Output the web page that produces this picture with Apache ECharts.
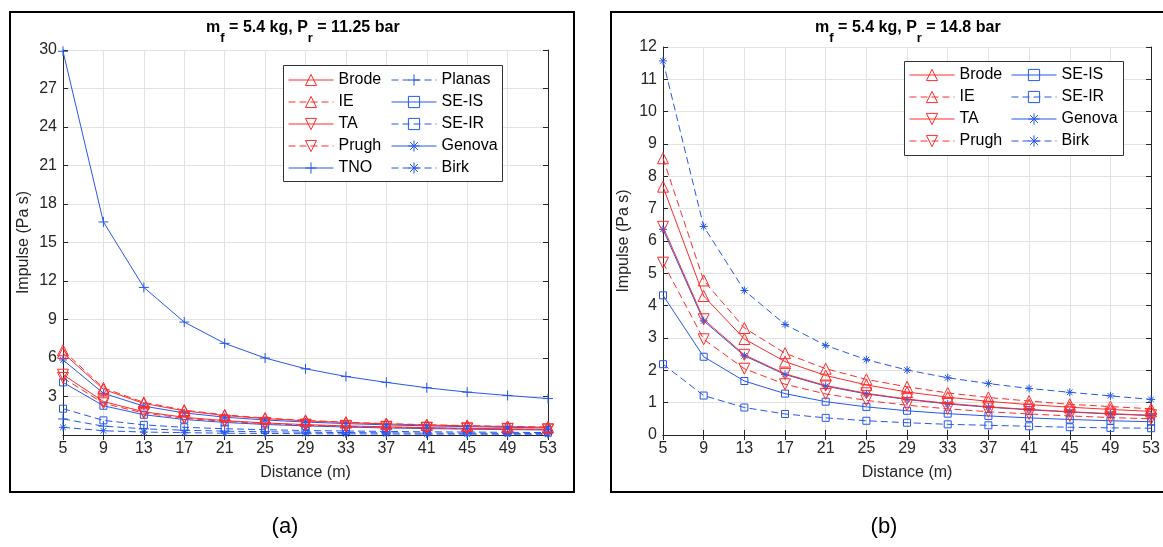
<!DOCTYPE html>
<html><head><meta charset="utf-8">
<script src="https://cdn.jsdelivr.net/npm/echarts@6/dist/echarts.min.js"></script>
<style>html,body{margin:0;padding:0;background:#fff}#c{width:1163px;height:547px}</style>
</head><body><div id="c"></div>
<script>
// ---------- data ----------
const distance = ['5','9','13','17','21','25','29','33','37','41','45','49','53'];

// panel (a): m_f = 5.4 kg, P_r = 11.25 bar
const aBrode  = [6.40,3.56,2.46,1.88,1.52,1.28,1.10,0.97,0.86,0.78,0.71,0.65,0.60];
const aIE     = [6.60,3.67,2.54,1.94,1.57,1.32,1.14,1.00,0.89,0.80,0.73,0.67,0.62];
const aTA     = [4.70,2.61,1.81,1.38,1.12,0.94,0.81,0.71,0.64,0.57,0.52,0.48,0.44];
const aPrugh  = [4.45,2.47,1.71,1.31,1.06,0.89,0.77,0.67,0.60,0.54,0.49,0.45,0.42];
const aTNO    = [29.9,16.6,11.5,8.80,7.14,6.00,5.16,4.56,4.10,3.68,3.34,3.08,2.84];
const aPlanas = [1.25,0.69,0.48,0.37,0.30,0.25,0.22,0.19,0.17,0.15,0.14,0.13,0.12];
const aSEIS   = [4.10,2.28,1.58,1.21,0.98,0.82,0.71,0.62,0.55,0.50,0.46,0.42,0.39];
const aSEIR   = [2.05,1.14,0.79,0.60,0.49,0.41,0.35,0.31,0.28,0.25,0.23,0.21,0.19];
const aGenova = [5.85,3.25,2.25,1.72,1.39,1.17,1.01,0.89,0.79,0.71,0.65,0.60,0.55];
const aBirk   = [0.60,0.33,0.23,0.18,0.14,0.12,0.10,0.09,0.08,0.07,0.07,0.06,0.06];

// panel (b): m_f = 5.4 kg, P_r = 14.8 bar
const bBrode  = [7.68,4.30,2.97,2.27,1.84,1.55,1.33,1.17,1.04,0.94,0.86,0.79,0.73];
const bIE     = [8.56,4.78,3.31,2.53,2.05,1.72,1.49,1.30,1.16,1.05,0.95,0.88,0.81];
const bTA     = [6.44,3.58,2.48,1.89,1.53,1.29,1.11,0.98,0.87,0.79,0.72,0.66,0.61];
const bPrugh  = [5.33,2.96,2.05,1.57,1.27,1.07,0.92,0.81,0.72,0.65,0.59,0.54,0.50];
const bSEIS   = [4.32,2.42,1.67,1.28,1.03,0.87,0.75,0.66,0.59,0.53,0.48,0.44,0.41];
const bSEIR   = [2.19,1.22,0.85,0.65,0.53,0.44,0.38,0.33,0.30,0.27,0.24,0.22,0.21];
const bGenova = [6.36,3.53,2.45,1.87,1.51,1.27,1.10,0.96,0.86,0.78,0.71,0.65,0.60];
const bBirk   = [11.57,6.45,4.47,3.42,2.77,2.33,2.01,1.77,1.59,1.44,1.32,1.21,1.10];

const legendA1 = ['Brode','IE','TA','Prugh','TNO'];
const legendA2 = ['Planas','SE-IS','SE-IR','Genova','Birk'];
const legendB1 = ['Brode','IE','TA','Prugh'];
const legendB2 = ['SE-IS','SE-IR','Genova','Birk'];

// ---------- styles ----------
const RED = '#ff2b2b', BLUE = '#2557ee';
const SYM = {
  up:   'path://M5,0L10,9L0,9Z',
  down: 'path://M0,0L10,0L5,9Z',
  plus: 'path://M5,0L5,10M0,5L10,5',
  sq:   'path://M0,0L10,0L10,10L0,10Z',
  ast:  'path://M5,0L5,10M0,5L10,5M1.5,1.5L8.5,8.5M8.5,1.5L1.5,8.5'
};
const STYLE = {
  'Brode':  {c: RED,  s: SYM.up,   z: 11, dash: false},
  'IE':     {c: RED,  s: SYM.up,   z: 11, dash: true},
  'TA':     {c: RED,  s: SYM.down, z: 11, dash: false},
  'Prugh':  {c: RED,  s: SYM.down, z: 11, dash: true},
  'TNO':    {c: BLUE, s: SYM.plus, z: 10, dash: false},
  'Planas': {c: BLUE, s: SYM.plus, z: 10, dash: true},
  'SE-IS':  {c: BLUE, s: SYM.sq,   z: 7,  dash: false},
  'SE-IR':  {c: BLUE, s: SYM.sq,   z: 7,  dash: true},
  'Genova': {c: BLUE, s: SYM.ast,  z: 8,  dash: false},
  'Birk':   {c: BLUE, s: SYM.ast,  z: 8,  dash: true}
};
function mk(name, data, idx) {
  const st = STYLE[name];
  return {
    name, type: 'line', data, xAxisIndex: idx, yAxisIndex: idx,
    symbol: st.s, symbolSize: st.z, showSymbol: true, animation: false,
    lineStyle: {color: st.c, width: 1, type: st.dash ? [7,4] : 'solid'},
    itemStyle: {color: 'transparent', borderColor: st.c, borderWidth: 1},
    emphasis: {disabled: true}
  };
}

const FONT = "'Liberation Sans', Arial, sans-serif";
const AX = '#262626';
function xAx(gi, show) {
  return {
    type: 'category', data: distance, gridIndex: gi, boundaryGap: false,
    position: show ? 'bottom' : 'top',
    axisLine: {show: true, lineStyle: {color: AX, width: 1}},
    axisTick: {show: true, inside: true, length: 5, lineStyle: {color: AX}},
    axisLabel: {show: show, fontFamily: FONT, fontSize: 16, color: AX, margin: 6},
    splitLine: {show: show, lineStyle: {color: '#e3e3e3'}},
    name: show ? 'Distance (m)' : '', nameLocation: 'middle', nameGap: 30,
    nameTextStyle: {fontFamily: FONT, fontSize: 16, color: AX}
  };
}
function yAx(gi, show, max, interval, hideMin) {
  return {
    type: 'value', gridIndex: gi, min: 0, max, interval,
    position: show ? 'left' : 'right',
    axisLine: {show: true, lineStyle: {color: AX, width: 1}},
    axisTick: {show: true, inside: true, length: 5, lineStyle: {color: AX}},
    axisLabel: {show: show, fontFamily: FONT, fontSize: 16, color: AX, margin: 6, showMinLabel: !hideMin},
    splitLine: {show: show, lineStyle: {color: '#e3e3e3'}},
    name: show ? 'Impulse (Pa s)' : '', nameLocation: 'middle', nameGap: 31, nameRotate: 90,
    nameTextStyle: {fontFamily: FONT, fontSize: 16, color: AX}
  };
}
function titleRich(pr) {
  return {
    text: '{b|m}{s|f}{b| = 5.4 kg, P}{s|r}{b| = ' + pr + ' bar}{sp| }',
    textStyle: {
      rich: {
        b: {fontFamily: FONT, fontSize: 16, fontWeight: 'bold', color: '#000', verticalAlign: 'top', lineHeight: 17},
        s: {fontFamily: FONT, fontSize: 13, fontWeight: 'bold', color: '#000', verticalAlign: 'bottom', lineHeight: 13},
        sp: {fontSize: 1, lineHeight: 25, verticalAlign: 'top'}
      }
    }
  };
}
function leg(data, left, top) {
  return {
    data, orient: 'vertical', left, top, padding: 0,
    itemWidth: 45, itemHeight: 14, itemGap: 6,
    selectedMode: false,
    textStyle: {fontFamily: FONT, fontSize: 16, color: '#000'},
    lineStyle: {width: 1},
    itemStyle: {borderWidth: 1},
    z: 20
  };
}

const chart = echarts.init(document.getElementById('c'), null, {renderer: 'canvas'});
chart.setOption({
  animation: false,
  backgroundColor: '#fff',
  title: [
    Object.assign({left: 303, top: 20, textAlign: 'center', padding: 0}, titleRich('11.25')),
    Object.assign({left: 908, top: 20, textAlign: 'center', padding: 0}, titleRich('14.8'))
  ],
  grid: [
    {left: 63, top: 50, width: 485, height: 385},
    {left: 663, top: 47, width: 494, height: 388}
  ],
  xAxis: [xAx(0, true), xAx(1, true), xAx(0, false), xAx(1, false)],
  yAxis: [yAx(0, true, 30, 3, true), yAx(1, true, 12, 1, false), yAx(0, false, 30, 3, true), yAx(1, false, 12, 1, false)],
  legend: [leg(legendA1, 288, 72), leg(legendA2, 391, 72), leg(legendB1, 909, 67), leg(legendB2, 1011, 67)],
  graphic: [
    {type: 'rect', shape: {x: 10, y: 12, width: 564, height: 480}, style: {fill: 'none', stroke: '#000', lineWidth: 2}, z: 30},
    {type: 'rect', shape: {x: 611, y: 12, width: 600, height: 480}, style: {fill: 'none', stroke: '#000', lineWidth: 2}, z: 30},
    {type: 'rect', shape: {x: 283.5, y: 65.5, width: 219, height: 116}, style: {fill: '#fff', stroke: '#333', lineWidth: 1}, z: 15},
    {type: 'rect', shape: {x: 904.5, y: 61.5, width: 219, height: 94}, style: {fill: '#fff', stroke: '#333', lineWidth: 1}, z: 15},
    {type: 'text', x: 285, y: 527, style: {text: '(a)', fontFamily: FONT, fontSize: 22, fill: '#000', textAlign: 'center', textVerticalAlign: 'middle'}, z: 30},
    {type: 'text', x: 884, y: 527, style: {text: '(b)', fontFamily: FONT, fontSize: 22, fill: '#000', textAlign: 'center', textVerticalAlign: 'middle'}, z: 30}
  ],
  series: [
    mk('SE-IR', aSEIR, 0), mk('Planas', aPlanas, 0), mk('Birk', aBirk, 0),
    mk('SE-IS', aSEIS, 0), mk('Genova', aGenova, 0), mk('TNO', aTNO, 0),
    mk('Prugh', aPrugh, 0), mk('TA', aTA, 0), mk('IE', aIE, 0), mk('Brode', aBrode, 0),
    mk('SE-IR', bSEIR, 1), mk('Birk', bBirk, 1), mk('SE-IS', bSEIS, 1), mk('Genova', bGenova, 1),
    mk('Prugh', bPrugh, 1), mk('TA', bTA, 1), mk('IE', bIE, 1), mk('Brode', bBrode, 1)
  ]
});
</script></body></html>
